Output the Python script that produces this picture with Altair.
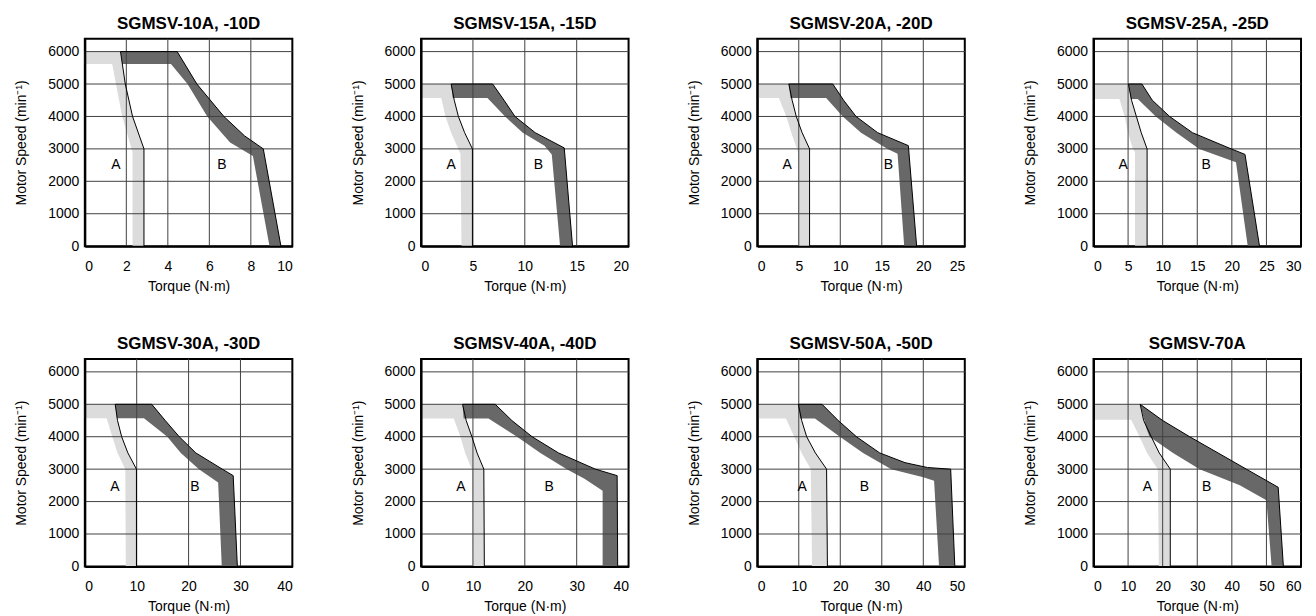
import altair as alt
import pandas as pd

FONT = "Liberation Sans"
LIGHT = "#dcdcdc"
DARK = "#686868"
GRID = "#404040"

TITLES = ["SGMSV-10A, -10D", "SGMSV-15A, -15D", "SGMSV-20A, -20D", "SGMSV-25A, -25D",
          "SGMSV-30A, -30D", "SGMSV-40A, -40D", "SGMSV-50A, -50D", "SGMSV-70A"]
X_MAX = [10, 20, 25, 30, 40, 40, 50, 60]
X_STEP = [2, 5, 5, 5, 10, 10, 10, 10]
Y_TICKS = [0, 1000, 2000, 3000, 4000, 5000, 6000]
Y_MAX = 6400

# (torque N·m, speed min-1) — outer / inner edges of zone A (continuous) and zone B (intermittent)
A_OUT_10 = [(1.72, 6000), (1.95, 5000), (2.3, 4000), (2.85, 3000), (2.85, 0)]
A_IN_10 = [(1.32, 5620), (1.5, 5000), (1.8, 4000), (2.3, 2900), (2.3, 0)]
B_OUT_10 = [(4.45, 6000), (5.4, 5000), (6.7, 4000), (7.7, 3400), (8.6, 3000), (9.45, 0)]
B_IN_10 = [(1.8, 5620), (4.15, 5620), (4.95, 5000), (5.9, 4000), (7.0, 3200), (8.1, 2780), (8.9, 0)]

A_OUT_15 = [(2.9, 5000), (3.2, 4500), (3.6, 4000), (4.2, 3500), (4.95, 3000), (4.95, 0)]
A_IN_15 = [(1.95, 4570), (2.35, 4000), (2.9, 3500), (3.8, 2850), (3.9, 0)]
B_OUT_15 = [(6.9, 5000), (8.0, 4500), (9.05, 4000), (11.0, 3500), (13.8, 3030), (14.6, 0)]
B_IN_15 = [(3.05, 4570), (6.4, 4570), (8.1, 4000), (9.8, 3500), (11.9, 3100), (12.6, 2830), (13.4, 0)]

A_OUT_20 = [(3.8, 5000), (4.2, 4500), (4.7, 4000), (5.4, 3500), (6.3, 3000), (6.3, 0)]
A_IN_20 = [(2.6, 4570), (3.5, 4000), (4.1, 3500), (4.9, 2900), (4.9, 0)]
B_OUT_20 = [(9.1, 5000), (10.4, 4500), (11.9, 4000), (14.5, 3500), (18.2, 3100), (19.2, 0)]
B_IN_20 = [(4.0, 4570), (8.3, 4570), (10.3, 4000), (12.5, 3500), (15.7, 3000), (16.9, 2850), (17.7, 0)]

A_OUT_25 = [(5.05, 5000), (5.5, 4500), (6.2, 4000), (6.9, 3500), (7.75, 3000), (7.75, 0)]
A_IN_25 = [(3.75, 4540), (4.5, 4000), (5.0, 3500), (5.7, 3000), (6.0, 2900), (6.0, 0)]
B_OUT_25 = [(7.0, 5000), (8.5, 4500), (11.0, 4000), (14.3, 3500), (19.9, 3000), (21.9, 2830), (24.0, 0)]
B_IN_25 = [(5.4, 4540), (6.4, 4540), (9.0, 4000), (12.0, 3500), (15.3, 3000), (20.6, 2590), (22.3, 0)]

A_OUT_30 = [(5.85, 5000), (6.3, 4500), (7.1, 4000), (8.3, 3500), (9.95, 3000), (9.95, 0)]
A_IN_30 = [(4.2, 4570), (5.3, 4000), (6.3, 3500), (7.8, 3000), (7.9, 0)]
B_OUT_30 = [(12.9, 5000), (15.5, 4500), (18.2, 4000), (21.4, 3500), (26.5, 3000), (28.6, 2800), (29.4, 0)]
B_IN_30 = [(6.2, 4570), (11.4, 4570), (15.9, 4000), (18.5, 3500), (22.0, 3000), (25.7, 2590), (26.4, 0)]

A_OUT_40 = [(8.0, 5000), (8.7, 4500), (9.8, 4000), (10.8, 3500), (12.1, 3000), (12.2, 0)]
A_IN_40 = [(6.3, 4560), (7.6, 4000), (8.5, 3500), (9.8, 3000), (9.95, 0)]
B_OUT_40 = [(14.3, 5000), (17.5, 4500), (21.4, 4000), (26.5, 3500), (33.6, 3000), (37.8, 2800), (37.9, 0)]
B_IN_40 = [(8.2, 4560), (13.0, 4560), (18.5, 4000), (23.0, 3500), (28.1, 3000), (31.5, 2700), (35.0, 2330), (35.0, 0)]

A_OUT_50 = [(9.9, 5000), (10.7, 4500), (11.9, 4000), (14.0, 3500), (16.7, 3000), (16.9, 0)]
A_IN_50 = [(6.9, 4560), (8.9, 4000), (10.7, 3500), (12.9, 3000), (13.2, 0)]
B_OUT_50 = [(15.6, 5000), (19.5, 4500), (23.9, 4000), (29.5, 3500), (35.6, 3200), (41.0, 3050), (46.6, 3000), (47.6, 0)]
B_IN_50 = [(10.3, 4560), (13.9, 4560), (19.9, 4000), (25.5, 3500), (32.3, 3000), (40.0, 2750), (42.6, 2640), (43.8, 0)]

A_OUT_70 = [(13.5, 5000), (14.5, 4500), (16.7, 4000), (19.0, 3500), (22.2, 3000), (22.2, 0)]
A_IN_70 = [(10.9, 4520), (13.3, 4000), (15.5, 3500), (18.6, 3000), (18.9, 0)]
B_OUT_70 = [(13.5, 5000), (20.0, 4500), (27.8, 4000), (36.0, 3500), (44.2, 3000), (53.4, 2440), (54.9, 0)]
B_IN_70 = [(15.3, 4250), (16.2, 4000), (23.0, 3500), (30.7, 3000), (42.3, 2500), (50.0, 2040), (51.5, 0)]

A_OUT = [A_OUT_10, A_OUT_15, A_OUT_20, A_OUT_25, A_OUT_30, A_OUT_40, A_OUT_50, A_OUT_70]
A_IN = [A_IN_10, A_IN_15, A_IN_20, A_IN_25, A_IN_30, A_IN_40, A_IN_50, A_IN_70]
B_OUT = [B_OUT_10, B_OUT_15, B_OUT_20, B_OUT_25, B_OUT_30, B_OUT_40, B_OUT_50, B_OUT_70]
B_IN = [B_IN_10, B_IN_15, B_IN_20, B_IN_25, B_IN_30, B_IN_40, B_IN_50, B_IN_70]

# zone label positions (torque, speed)
LABEL_A = [(1.5, 2500), (2.9, 2500), (3.6, 2500), (4.3, 2500), (5.8, 2450), (7.7, 2450), (10.8, 2450), (15.6, 2450)]
LABEL_B = [(6.6, 2500), (11.3, 2500), (15.8, 2500), (16.3, 2500), (21.2, 2450), (24.7, 2450), (25.8, 2450), (32.7, 2450)]


def to_df(points):
    return pd.DataFrame({"t": [p[0] for p in points],
                         "s": [p[1] for p in points],
                         "i": list(range(len(points)))})


def panel(k):
    xmax = X_MAX[k]
    step = X_STEP[k]
    x_ticks = list(range(0, xmax + 1, step))
    xs = alt.X("t:Q", scale=alt.Scale(domain=[0, xmax], nice=False),
               axis=alt.Axis(values=x_ticks, title="Torque (N·m)",
                             grid=False, ticks=False, labelPadding=13, titlePadding=6,
                             zindex=1))
    ys = alt.Y("s:Q", scale=alt.Scale(domain=[0, Y_MAX], nice=False),
               axis=alt.Axis(values=Y_TICKS, format="d", title="Motor Speed (min⁻¹)",
                             grid=False, ticks=False, labelPadding=6, titlePadding=19,
                             zindex=1))
    order = alt.Order("i:Q")
    a_out, a_in, b_out, b_in = A_OUT[k], A_IN[k], B_OUT[k], B_IN[k]
    top = a_out[0][1]
    poly_a = [(0, top)] + a_out + a_in[::-1] + [(0, a_in[0][1])]
    poly_b = [a_out[0]] + b_out + b_in[::-1]
    line_a = a_out
    line_b = [a_out[0]] + b_out

    layer_a = alt.Chart(to_df(poly_a)).mark_line(filled=True, color=LIGHT).encode(x=xs, y=ys, order=order)
    layer_b = alt.Chart(to_df(poly_b)).mark_line(filled=True, color=DARK).encode(x=xs, y=ys, order=order)

    vgrid = alt.Chart(pd.DataFrame({"t": x_ticks[1:-1]})).mark_rule(
        color=GRID, strokeWidth=1).encode(x=xs)
    hgrid = alt.Chart(pd.DataFrame({"s": Y_TICKS[1:]})).mark_rule(
        color=GRID, strokeWidth=1).encode(y=ys)

    out_a = alt.Chart(to_df(line_a)).mark_line(color="black", strokeWidth=1).encode(x=xs, y=ys, order=order)
    out_b = alt.Chart(to_df(line_b)).mark_line(color="black", strokeWidth=1).encode(x=xs, y=ys, order=order)
    lbl = pd.DataFrame({"t": [LABEL_A[k][0], LABEL_B[k][0]],
                        "s": [LABEL_A[k][1], LABEL_B[k][1]],
                        "label": ["A", "B"]})
    text = alt.Chart(lbl).mark_text(font=FONT, fontSize=14, color="black").encode(
        x=xs, y=ys, text="label:N")
    return alt.layer(layer_a, layer_b, vgrid, hgrid, out_a, out_b, text).properties(
        width=208, height=208,
        title=alt.TitleParams(TITLES[k], fontSize=17, fontWeight="bold", font=FONT,
                              offset=5, color="black"))


row1 = alt.hconcat(*[panel(k) for k in range(4)], spacing=55)
row2 = alt.hconcat(*[panel(k) for k in range(4, 8)], spacing=55)
chart = alt.vconcat(row1, row2, spacing=40).properties(padding=5).configure_view(
    stroke="black", strokeWidth=2
).configure_axis(
    labelFont=FONT, titleFont=FONT, labelFontSize=14, titleFontSize=14,
    titleFontWeight="normal", labelColor="black", titleColor="black",
    domainColor="black", domainWidth=2
)

chart.save("out.html", embed_options={"renderer": "svg", "actions": False})
